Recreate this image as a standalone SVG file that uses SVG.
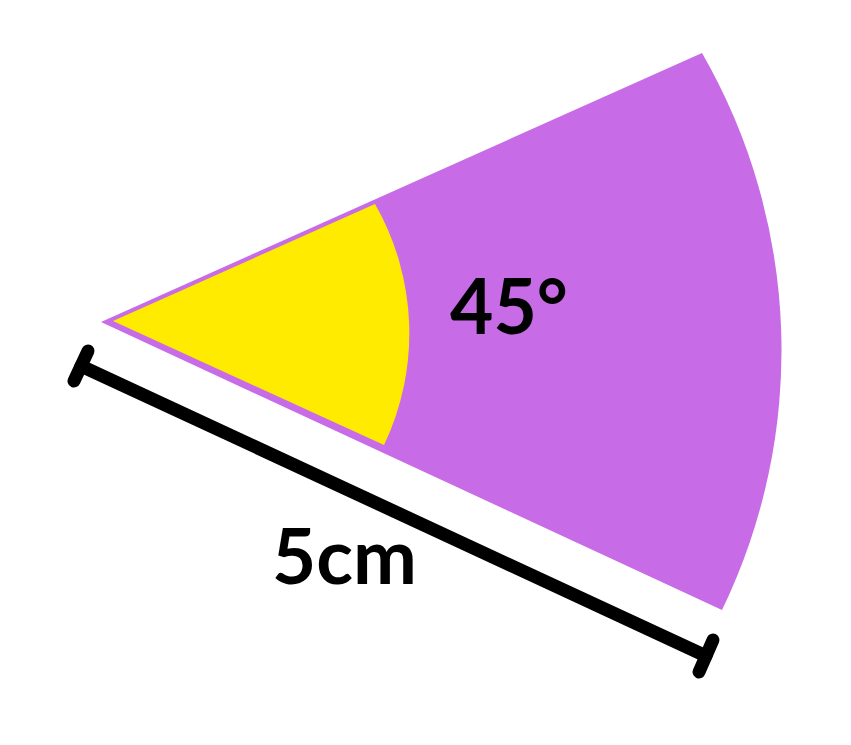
<svg xmlns="http://www.w3.org/2000/svg" width="851" height="745" viewBox="0 0 851 745">
<style>
.lbl{font-family:"Lato","Liberation Sans",sans-serif;font-weight:bold;font-size:76px;fill:#000}
.dim{stroke:#000;stroke-width:13;stroke-linecap:round;fill:none}
</style>
<rect width="851" height="745" fill="#fff"/>
<g id="sector">
<path d="M101 322 L702 53 A596 596 0 0 1 722 610 Z" fill="#C86BE6"/>
</g>
<g id="inner-sector">
<path d="M113 321 L375 204 A260 260 0 0 1 384 445 Z" fill="#FFEB00"/>
</g>
<g id="dimension">
<line class="dim" x1="81" y1="366" x2="706" y2="656"/>
<line class="dim" x1="88" y1="351" x2="74" y2="381"/>
<line class="dim" x1="713" y1="640" x2="699" y2="672"/>
</g>
<g id="labels">
<text class="lbl" x="450" y="334" textLength="118" lengthAdjust="spacingAndGlyphs">45°</text>
<text class="lbl" x="272" y="584" textLength="145" lengthAdjust="spacingAndGlyphs">5cm</text>
</g>
</svg>
